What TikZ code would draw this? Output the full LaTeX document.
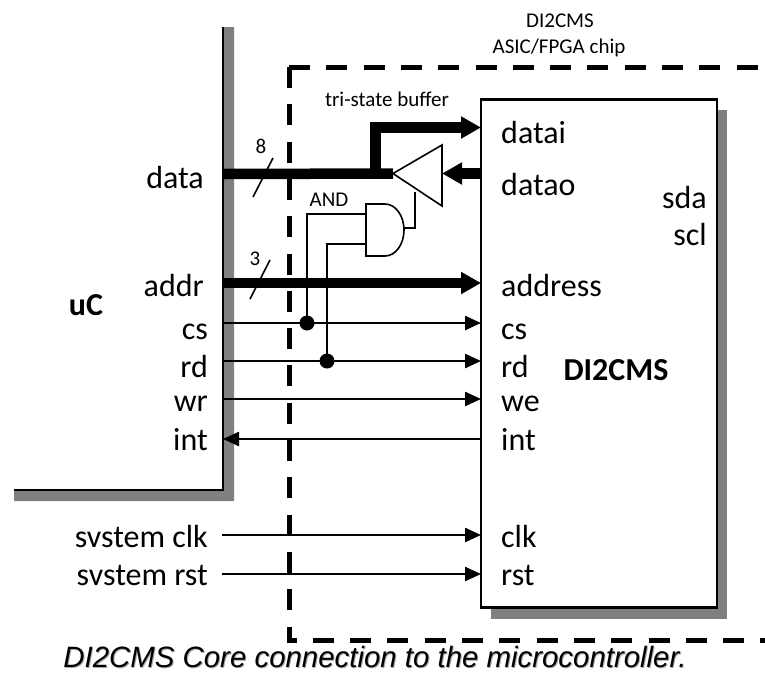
\documentclass[tikz,border=0pt]{standalone}
\usepackage{fontspec}
\setmainfont{Carlito}
\newfontfamily\captionfont{Liberation Sans}
\usetikzlibrary{arrows.meta, positioning, calc}

\begin{document}
\begin{tikzpicture}[
    x=1pt,
    y=-1pt,
    sig/.style={
        font=\fontsize{32}{36}\selectfont,
        inner sep=0pt
    },
    sigleft/.style={
        sig,
        anchor=base east
    },
    sigright/.style={
        sig,
        anchor=base west
    },
    note/.style={
        font=\fontsize{21}{24}\selectfont,
        inner sep=0pt,
        anchor=base
    },
    wire/.style={
        -{Triangle[length=16pt,width=14pt]},
        line width=2.4pt
    },
    bus/.style={
        -{Triangle[length=20pt,width=21pt]},
        line width=10.5pt
    },
    gate/.style={
        draw,
        line width=1.6pt,
        line join=miter
    },
    link/.style={
        line width=1.6pt
    },
    dot/.style={
        circle,
        fill=black,
        inner sep=0pt,
        minimum size=15pt
    },
    outline/.style={
        line width=2.6pt
    },
    chip/.style={
        line width=5pt,
        dash pattern=on 21pt off 16.3pt
    },
    shade/.style={
        fill=black!50
    }
]
\useasboundingbox (0,0) rectangle (765,673);

% Pins
\coordinate (ctop) at (289,67);
\coordinate (ctr) at (770,67);
\coordinate (cbl) at (289,640);
\coordinate (cbr) at (770,640);
\coordinate (inData) at (223,174);
\coordinate (inAddr) at (223,283);
\coordinate (inCs) at (223,323);
\coordinate (inRd) at (223,361);
\coordinate (inWr) at (223,399);
\coordinate (inInt) at (223,439);
\coordinate (inClk) at (222,535);
\coordinate (inRst) at (222,574);
\coordinate (pDatai) at (481,127.5);
\coordinate (pDatao) at (481,173.5);
\coordinate (pAddr) at (481,283);
\coordinate (pCs) at (481,323);
\coordinate (pRd) at (481,361);
\coordinate (pWe) at (481,399);
\coordinate (pInt) at (481,439);
\coordinate (pClk) at (481,535);
\coordinate (pRst) at (481,574);
\coordinate (bufTip) at (393,173.5);
\coordinate (bufTop) at (442,145);
\coordinate (bufBot) at (442,206);
\coordinate (bufIn) at (442,173.5);
\coordinate (bufEn) at (415,192);
\coordinate (split) at (375.5,174);
\coordinate (andA) at (366,214);
\coordinate (andB) at (366,244);
\coordinate (andOut) at (404,228);
\coordinate (tick8a) at (253,197);
\coordinate (tick8b) at (273,158);
\coordinate (tick3a) at (250,299);
\coordinate (tick3b) at (270,260);

% Outlines
\fill [shade] (223,27) -- (234,27) -- (234,501) -- (14,501) -- (14,490) -- (223,490) -- cycle;
\draw [outline] (223,27) -- (223,490) -- (14,490);
\draw [chip] (ctop) -- (ctr);
\draw [chip] (ctop) -- (cbl) -- (cbr);
\fill [shade] (491,110) rectangle (727,619);
\node (core) [draw, outline, fill=white, minimum width=236pt, minimum height=508pt, inner sep=0pt] at (599,353.5) {};

% Gates
\draw [gate, fill=white] (bufTip) -- (bufTop) -- (bufBot) -- cycle;
\draw [gate, fill=white] (366,204) -- (385,204) arc[start angle=90, end angle=-90, x radius=19pt, y radius=26pt] -- (366,256) -- cycle;

% Paths
\draw [bus, -] (inData) -- (bufTip);
\draw [bus, line join=miter] (split) |- (pDatai);
\draw [bus] (pDatao) -- (bufIn);
\draw [bus] (inAddr) -- (pAddr);
\draw [wire] (inCs) -- (pCs);
\draw [wire] (inRd) -- (pRd);
\draw [wire] (inWr) -- (pWe);
\draw [wire] (pInt) -- (inInt);
\draw [wire] (inClk) -- (pClk);
\draw [wire] (inRst) -- (pRst);
\node (csdot) [dot] at (inCs -| 307,0) {};
\node (rddot) [dot] at (inRd -| 327,0) {};
\draw [link] (csdot.center) |- (andA);
\draw [link] (rddot.center) |- (andB);
\draw [link] (andOut) -| (bufEn);
\draw [link] (tick8a) -- (tick8b);
\draw [link] (tick3a) -- (tick3b);

% Labels
\node (ldata) [sigleft] at (204,188) {data};
\node (laddr) [sigleft] at (204,296) {addr};
\node (lcs) [sigleft] at (208,339) {cs};
\node (lrd) [sigleft] at (208,377) {rd};
\node (lwr) [sigleft] at (208,411) {wr};
\node (lint) [sigleft] at (208,450) {int};
\node (lclk) [sigleft] at (208,547) {svstem clk};
\node (lrst) [sigleft] at (208,585) {svstem rst};
\node (rdatai) [sigright] at (501,143) {datai};
\node (rdatao) [sigright] at (501,195) {datao};
\node (raddr) [sigright] at (501,296) {address};
\node (rcs) [sigright] at (501,339) {cs};
\node (rrd) [sigright] at (501,377) {rd};
\node (rwe) [sigright] at (501,411) {we};
\node (rint) [sigright] at (501,450) {int};
\node (rclk) [sigright] at (501,547) {clk};
\node (rrst) [sigright] at (501,585) {rst};
\node (rsda) [sigleft] at (707,208) {sda};
\node (rscl) [sigleft] at (707,245) {scl};
\node (ucname) [sig, anchor=base, font=\fontsize{32}{36}\selectfont\bfseries] at (86,315) {uC};
\node (corename) [sig, anchor=base, font=\fontsize{32}{36}\selectfont\bfseries] at (616,380) {DI2CMS};
\node (n8) [note] at (261,153) {8};
\node (n3) [note] at (255,265) {3};
\node (nand) [note] at (329,206) {AND};
\node (ntri) [note] at (387,106) {tri-state buffer};
\node (nchip) [note] at (560,27) {DI2CMS};
\node (nasic) [note] at (559,53) {ASIC/FPGA chip};
\node (capshade) [note, black!35, font=\captionfont\itshape\fontsize{29.4}{32}\selectfont] at (376,668) {DI2CMS Core connection to the microcontroller.};
\node (cap) [note, font=\captionfont\itshape\fontsize{29.4}{32}\selectfont] at (375,667) {DI2CMS Core connection to the microcontroller.};

\end{tikzpicture}
\end{document}
